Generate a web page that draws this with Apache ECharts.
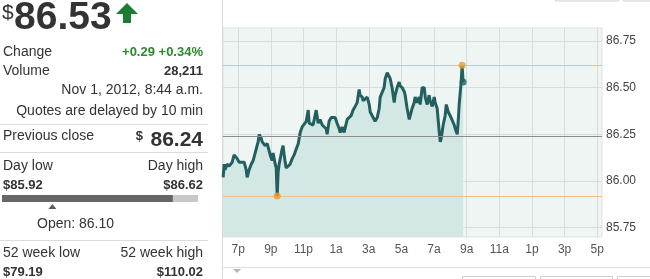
<!DOCTYPE html>
<html>
<head>
<meta charset="utf-8">
<script src="https://cdn.jsdelivr.net/npm/echarts@6/dist/echarts.min.js"></script>
<style>
html,body{margin:0;padding:0;background:#fff;}
#c{width:650px;height:279px;}
</style>
</head>
<body>
<div id="c"></div>
<script>
// ---- data (hours after 6 p.m., Oct 31 2012) ----
const times = [0.08,0.14,0.20,0.32,0.45,0.63,0.75,0.81,0.94,1.06,1.18,1.37,1.49,1.55,1.67,1.80,1.92,2.04,2.10,2.22,2.29,2.41,2.47,2.59,2.65,2.78,2.84,2.96,3.08,3.14,3.27,3.33,3.39,3.45,3.51,3.63,3.69,3.75,3.82,3.88,3.94,4.06,4.18,4.31,4.43,4.55,4.68,4.80,4.92,5.04,5.17,5.29,5.35,5.47,5.59,5.66,5.78,5.90,6.02,6.15,6.27,6.39,6.45,6.57,6.70,6.82,6.94,7.06,7.19,7.25,7.37,7.49,7.55,7.68,7.80,7.92,8.04,8.17,8.29,8.41,8.47,8.60,8.66,8.78,8.90,9.03,9.09,9.21,9.33,9.39,9.52,9.64,9.70,9.82,9.94,10.01,10.13,10.25,10.31,10.43,10.56,10.62,10.74,10.86,10.92,11.05,11.17,11.23,11.35,11.48,11.54,11.66,11.78,11.84,11.97,12.09,12.15,12.27,12.40,12.46,12.58,12.70,12.76,12.89,13.01,13.07,13.19,13.32,13.38,13.44,13.56,13.68,13.75,13.87,13.99,14.11,14.24,14.30,14.42,14.48,14.54,14.66,14.72,14.78];
const prices = [86.02,86.09,86.06,86.09,86.08,86.10,86.14,86.15,86.12,86.10,86.11,86.10,86.06,86.02,86.06,86.09,86.11,86.12,86.17,86.21,86.25,86.23,86.21,86.22,86.19,86.20,86.18,86.14,86.11,86.15,86.09,86.07,85.92,86.05,86.09,86.10,86.17,86.19,86.14,86.10,86.07,86.06,86.09,86.12,86.14,86.17,86.20,86.26,86.29,86.30,86.32,86.38,86.31,86.30,86.30,86.29,86.38,86.31,86.33,86.30,86.31,86.28,86.25,86.32,86.34,86.33,86.34,86.31,86.28,86.26,86.29,86.26,86.25,86.33,86.34,86.35,86.38,86.40,86.42,86.49,86.46,86.45,86.43,86.42,86.45,86.41,86.37,86.35,86.36,86.32,86.34,86.39,86.45,86.45,86.50,86.55,86.58,86.57,86.55,86.50,86.42,86.46,86.50,86.53,86.51,86.50,86.48,86.46,86.39,86.33,86.35,86.39,86.42,86.45,86.42,86.45,86.41,86.50,86.50,86.45,86.41,86.46,86.43,86.40,86.45,86.42,86.39,86.26,86.21,86.23,86.30,86.35,86.41,86.37,86.35,86.34,86.30,86.28,86.25,86.32,86.41,86.53,86.62,86.53];
const hourTicks = [1,3,5,7,9,11,13,15,17,19,21,23];
const hourLabels = ['7p','9p','11p','1a','3a','5a','7a','9a','11a','1p','3p','5p'];
const priceTicks = [85.75,86.00,86.25,86.50,86.75];
const lastPrice = 86.53;
const previousClose = 86.24;
const dayLow = 85.92;
const dayHigh = 86.62;
const openPrice = 86.10;
const highPoint = [14.72, 86.62];
const lowPoint = [3.39, 85.92];
const lastPoint = [14.78, 86.53];
const changeText = '+0.29 +0.34%';
const volumeText = '28,211';
const week52Low = 79.19;
const week52High = 110.02;

const FONT = '"Liberation Sans", Arial, sans-serif';
function txt(text, x, y, size, opts) {
  opts = opts || {};
  return {
    type: 'text', silent: true,
    style: {
      text: text, x: x, y: y,
      font: (opts.bold ? 'bold ' : '') + size + 'px ' + FONT,
      fill: opts.color || '#333',
      textAlign: opts.align || 'left',
      textVerticalAlign: 'middle'
    }
  };
}
function hline(x1, x2, y, color) {
  return {type: 'line', silent: true, shape: {x1: x1, y1: y, x2: x2, y2: y}, style: {stroke: color || '#dcdcdc', lineWidth: 1}};
}

const lineData = times.map((t, i) => [t, prices[i]]);

const chart = echarts.init(document.getElementById('c'), null, {renderer: 'canvas'});
chart.setOption({
  animation: false,
  backgroundColor: '#fff',
  grid: [
    {left: 223, top: 28, width: 379, height: 209, show: true, backgroundColor: '#eef5f2', borderColor: '#dde3e0', borderWidth: 1, outerBoundsMode: 'none'},
    {left: 2, top: 195, width: 196, height: 7, outerBoundsMode: 'none'}
  ],
  xAxis: [
    {
      type: 'value', gridIndex: 0, min: 0.07, max: 23.29,
      axisLine: {show: false},
      axisTick: {show: false, customValues: hourTicks},
      axisLabel: {
        customValues: hourTicks, color: '#555', fontSize: 12, fontFamily: FONT, margin: 7,
        formatter: function (v) { const i = hourTicks.indexOf(Math.round(v)); return i >= 0 ? hourLabels[i] : ''; }
      },
      splitLine: {show: true, lineStyle: {color: '#d6dedb', width: 1}}
    },
    {type: 'value', gridIndex: 1, min: dayLow, max: dayHigh, show: false}
  ],
  yAxis: [
    {
      type: 'value', gridIndex: 0, position: 'right', min: 85.70, max: 86.82,
      axisLine: {show: false},
      axisTick: {show: false, customValues: priceTicks},
      axisLabel: {customValues: priceTicks, color: '#444', fontSize: 12, fontFamily: FONT, margin: 4,
        formatter: v => v.toFixed(2)},
      splitLine: {show: true, lineStyle: {color: '#d6dedb', width: 1}}
    },
    {type: 'category', gridIndex: 1, data: ['day'], show: false}
  ],
  series: [
    {
      // area under the price line
      type: 'line', xAxisIndex: 0, yAxisIndex: 0, data: lineData,
      showSymbol: false, symbol: 'none',
      lineStyle: {width: 0, opacity: 0},
      areaStyle: {color: '#d3e8e5', opacity: 1, origin: 'start'},
      z: 1, silent: true
    },
    {
      // reference lines: previous close, day high, day low
      type: 'line', xAxisIndex: 0, yAxisIndex: 0, data: [],
      z: 2, silent: true,
      markLine: {
        silent: true, symbol: 'none', label: {show: false}, animation: false,
        data: [
          {yAxis: previousClose, lineStyle: {color: '#8c8c8c', width: 1, type: 'solid'}},
          {yAxis: dayHigh, lineStyle: {color: '#efbd8c', width: 1, type: 'solid'}},
          {yAxis: dayLow, lineStyle: {color: '#efbd8c', width: 1, type: 'solid'}}
        ]
      }
    },
    {
      // price line
      type: 'line', xAxisIndex: 0, yAxisIndex: 0, data: lineData,
      showSymbol: false, symbol: 'none',
      lineStyle: {color: '#235f5f', width: 3},
      z: 3, silent: true
    },
    {
      type: 'scatter', xAxisIndex: 0, yAxisIndex: 0, data: [highPoint, lowPoint],
      symbolSize: 7, itemStyle: {color: '#ee9a2e'}, z: 5, silent: true
    },
    {
      type: 'scatter', xAxisIndex: 0, yAxisIndex: 0, data: [lastPoint],
      symbolSize: 7, itemStyle: {color: '#235f5f'}, z: 5, silent: true
    },
    {
      type: 'bar', xAxisIndex: 1, yAxisIndex: 1, data: [lastPrice], barWidth: 7,
      itemStyle: {color: '#666666'}, showBackground: true,
      backgroundStyle: {color: '#c8c8c8'}, silent: true
    },
    {
      type: 'scatter', xAxisIndex: 1, yAxisIndex: 1, data: [[openPrice, 0]],
      symbol: 'triangle', symbolSize: [8, 5], symbolOffset: [0, 8],
      itemStyle: {color: '#333'}, clip: false, silent: true
    }
  ],
  graphic: [
    // panel dividers
    {type: 'line', silent: true, shape: {x1: 222.5, y1: 0, x2: 222.5, y2: 279}, style: {stroke: '#d9d9d9', lineWidth: 1}},
    hline(222, 650, 267.5, '#dedede'),
    {type: 'polygon', silent: true, shape: {points: [[233, 269], [241, 269], [237, 273]]}, style: {fill: '#b5b5b5'}},
    {type: 'rect', silent: true, shape: {x: 462.5, y: 276.5, width: 73, height: 10}, style: {fill: '#fff', stroke: '#cfcfcf', lineWidth: 1}},
    {type: 'rect', silent: true, shape: {x: 540.5, y: 276.5, width: 72, height: 10}, style: {fill: '#fff', stroke: '#cfcfcf', lineWidth: 1}},
    {type: 'rect', silent: true, shape: {x: 617.5, y: 276.5, width: 40, height: 10}, style: {fill: '#fff', stroke: '#cfcfcf', lineWidth: 1}},
    {type: 'rect', silent: true, shape: {x: 555.5, y: -10, width: 63, height: 11}, style: {fill: '#fff', stroke: '#cfcfcf', lineWidth: 1}},
    {type: 'rect', silent: true, shape: {x: 623.5, y: -10, width: 40, height: 11}, style: {fill: '#fff', stroke: '#cfcfcf', lineWidth: 1}},
    // price header
    txt('$', 2, 13, 21, {color: '#333'}),
    txt('86.53', 14, 18, 39, {bold: true, color: '#333'}),
    {type: 'polygon', silent: true, shape: {points: [[127, 3], [138, 14], [131, 14], [131, 23], [123, 23], [123, 14], [116, 14]]}, style: {fill: '#1b7d33'}},
    txt('Change', 3, 52, 14),
    txt(changeText, 203, 52, 13, {bold: true, color: '#2a8a2f', align: 'right'}),
    txt('Volume', 3, 71, 14),
    txt(volumeText, 203, 71, 13, {bold: true, color: '#333', align: 'right'}),
    txt('Nov 1, 2012, 8:44 a.m.', 203, 90, 14, {align: 'right'}),
    txt('Quotes are delayed by 10 min', 203, 111, 14, {align: 'right'}),
    hline(0, 208, 124.5),
    txt('Previous close', 3, 136, 14),
    txt('$', 143, 136, 13, {bold: true, align: 'right'}),
    txt(previousClose.toFixed(2), 203, 140, 21, {bold: true, align: 'right'}),
    hline(0, 208, 152.5),
    txt('Day low', 3, 166, 14),
    txt('Day high', 203, 166, 14, {align: 'right'}),
    txt('$' + dayLow.toFixed(2), 3, 185, 13, {bold: true}),
    txt('$' + dayHigh.toFixed(2), 203, 185, 13, {bold: true, align: 'right'}),
    txt('Open: ' + openPrice.toFixed(2), 37, 224, 14),
    hline(0, 208, 240.5),
    txt('52 week low', 3, 253, 14),
    txt('52 week high', 203, 253, 14, {align: 'right'}),
    txt('$' + week52Low.toFixed(2), 3, 272, 13, {bold: true}),
    txt('$' + week52High.toFixed(2), 203, 272, 13, {bold: true, align: 'right'})
  ]
});
</script>
</body>
</html>
